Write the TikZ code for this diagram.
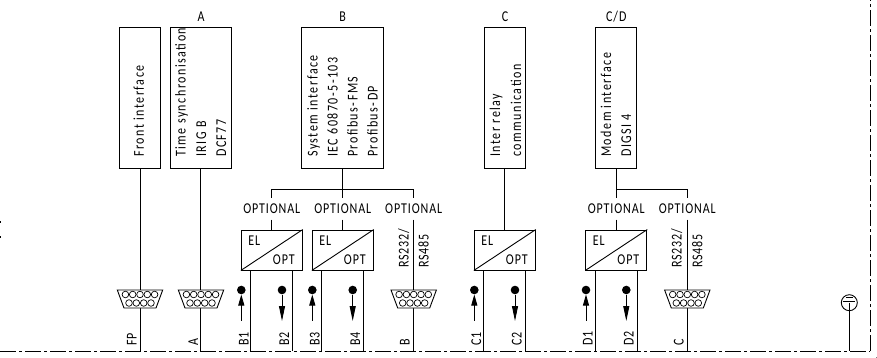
\documentclass[tikz,border=0pt]{standalone}
\usepackage{fontspec}
\setmainfont{Carlito}[LetterSpace=10,FakeStretch=0.8]
\newfontfamily\capsfont{Carlito}[LetterSpace=6,FakeStretch=0.8]
\usepackage{xcolor}
\usetikzlibrary{arrows.meta,shapes,positioning,calc}
\tikzset{
    wire/.style={line width=0.9pt},
    frameline/.style={line width=1pt, dash pattern=on 16pt off 3pt on 3pt off 3pt},
    iface/.style={draw, line width=0.9pt, minimum height=141pt, inner sep=0pt},
    conv/.style={draw, line width=0.9pt, minimum width=61pt, minimum height=40pt, inner sep=0pt},
    vtext/.style={rotate=90, anchor=base west, inner sep=0pt, font=\fontsize{15}{15}\selectfont},
    vlabel/.style={rotate=90, anchor=base west, inner sep=0pt, font=\capsfont\fontsize{15}{15}\selectfont},
    hlabel/.style={inner sep=0pt, font=\capsfont\fontsize{15}{15}\selectfont},
    optlabel/.style={hlabel, minimum height=21pt},
    blob/.style={circle, fill, inner sep=0pt, minimum size=8.6pt},
    dsub/.pic={
        \draw[wire, fill=white] (-22.7,-9) -- (22.7,-9) -- (16,9) -- (-16,9) -- cycle;
        \foreach \u in {-14.6,-7.3,0,7.3,14.6} \draw[line width=0.7pt] (\u,-4.5) circle (3.3);
        \foreach \u in {-11,-3.7,3.7,11} \draw[line width=0.7pt] (\u,4) circle (3.3);
    }
}
\begin{document}
\begin{tikzpicture}[x=1pt,y=-1pt]
    \path[use as bounding box, fill=white] (0,0) rectangle (877,358);
    \fill[black!50] (876,357) rectangle (877,358);

    % Interface boxes
    \node[iface, minimum width=41pt] (front) at (140,97.5) {};
    \node[iface, minimum width=61pt] (sync) at (200.5,97.5) {};
    \node[iface, minimum width=82pt] (system) at (342.7,97.5) {};
    \node[iface, minimum width=41pt] (relay) at (504.8,97.5) {};
    \node[iface, minimum width=41pt] (modem) at (616.3,97.5) {};

    % Box texts
    \foreach \x/\l in {143.9/Front interface, 185.5/Time synchronisation, 206/IRIG B, 226/DCF77,
        317.5/System interface, 337.7/IEC 60870-5-103, 357.7/Profibus-FMS, 377.7/Profibus-DP,
        500/Inter relay, 521/communication, 611/Modem interface, 631/DIGSI 4} {
        \node[vtext] at (\x,157) {\l};
    }

    % Group letters
    \node[hlabel] (grpa) at (201,17) {A};
    \node[hlabel] (grpb) at (342.7,17) {B};
    \node[hlabel] (grpc) at (505,17) {C};
    \node[hlabel] (grpd) at (616.3,17) {C/D};

    % Bus coordinates
    \foreach \n/\x in {fp/140, a/200.5, rsb/413.7, rsc/687.3, pe/849.3} {
        \coordinate (bus\n) at (\x,351);
    }

    % Optional branches
    \coordinate (forkb) at (342.7,189.3);
    \coordinate (forkd) at (616.3,189.3);
    \foreach \n/\x/\f in {ob1/271.8/forkb, ob2/342.8/forkb, ob3/413.7/forkb, od1/616.3/forkd, od2/687.3/forkd} {
        \node[optlabel] (\n) at (\x,209) {OPTIONAL};
        \draw[wire] (\f) -| (\n.north);
    }
    \draw[wire] (system.south) -- (forkb);
    \draw[wire] (modem.south) -- (forkd);

    % Converters
    \foreach \n/\x in {cb1/271.8, cb2/342.8, cc/504.8, cd/616.3} {
        \node[conv] (\n) at (\x,250) {};
        \draw[wire] (\n.south west) -- (\n.north east);
        \node[hlabel, anchor=center] at ($(\n.center)+(-17.5,-9.5)$) {EL};
        \node[hlabel, anchor=center] at ($(\n.center)+(12,10)$) {OPT};
        \coordinate (\n rx) at ($(\n.south west)+(10,0)$);
        \coordinate (\n tx) at ($(\n.south east)+(-10.3,0)$);
        \draw[wire] (\n rx) -- ($(\n rx)+(0,81)$);
        \draw[wire] (\n tx) -- ($(\n tx)+(0,81)$);
    }
    \draw[wire] (ob1.south) -- (cb1.north);
    \draw[wire] (ob2.south) -- (cb2.north);
    \draw[wire] (relay.south) -- (cc.north);
    \draw[wire] (od1.south) -- (cd.north);

    % Direct wires
    \draw[wire] (front.south) -- (busfp);
    \draw[wire] (sync.south) -- (busa);
    \draw[wire] (ob3.south) -- (busrsb);
    \draw[wire] (od2.south) -- (busrsc);

    % Frame
    \coordinate (framel) at (0,351);
    \coordinate (framec) at (870.3,351);
    \coordinate (framet) at (870.3,0);
    \draw[frameline] (framel) -- (framec);
    \draw[frameline] (framec) -- (framet);
    \draw[line width=1.2pt] (0,221) -- (0,223);
    \draw[line width=1.2pt] (0,236) -- (0,238);

    % Sub-D connectors
    \foreach \x in {140,201,413.7,687.3} {
        \pic at (\x,299) {dsub};
    }

    % RS labels
    \foreach \x/\l in {408.7/{RS232/}, 428.7/RS485, 681.7/{RS232/}, 702.4/RS485} {
        \node[vlabel] at (\x,268) {\l};
    }

    % Fibre inputs and outputs
    \foreach \n/\x in {u1/241.3, u2/312.3, u3/474.3, u4/586} {
        \node[blob] (\n) at (\x,290) {};
        \coordinate (\n e) at (\x,321);
        \draw[wire, {Triangle[length=11pt,width=6pt]}-] (\n) -- (\n e);
    }
    \foreach \n/\x in {d1/282, d2/352.7, d3/515, d4/626.3} {
        \node[blob] (\n) at (\x,290) {};
        \coordinate (\n e) at (\x,321);
        \draw[wire, -{Triangle[length=15pt,width=6pt]}] (\n) -- (\n e);
    }

    % Bottom labels
    \foreach \x/\l in {136.5/FP, 198/A, 248.5/B1, 289/B2, 319.5/B3, 360/B4, 409.5/B, 481/C1, 521.5/C2, 592.5/D1, 633.5/D2, 683.5/C} {
        \node[vlabel] at (\x,346) {\l};
    }

    % Earth symbol
    \node[circle, draw, line width=0.9pt, minimum size=16pt, inner sep=0pt] (earth) at (849.3,302.7) {};
    \draw[line width=1.2pt] (843.3,301.5) -- (855.3,301.5);
    \draw[line width=0.8pt] (846,297.5) -- (852.6,297.5);
    \draw[wire] (earth.center) -- (buspe);
\end{tikzpicture}
\end{document}
